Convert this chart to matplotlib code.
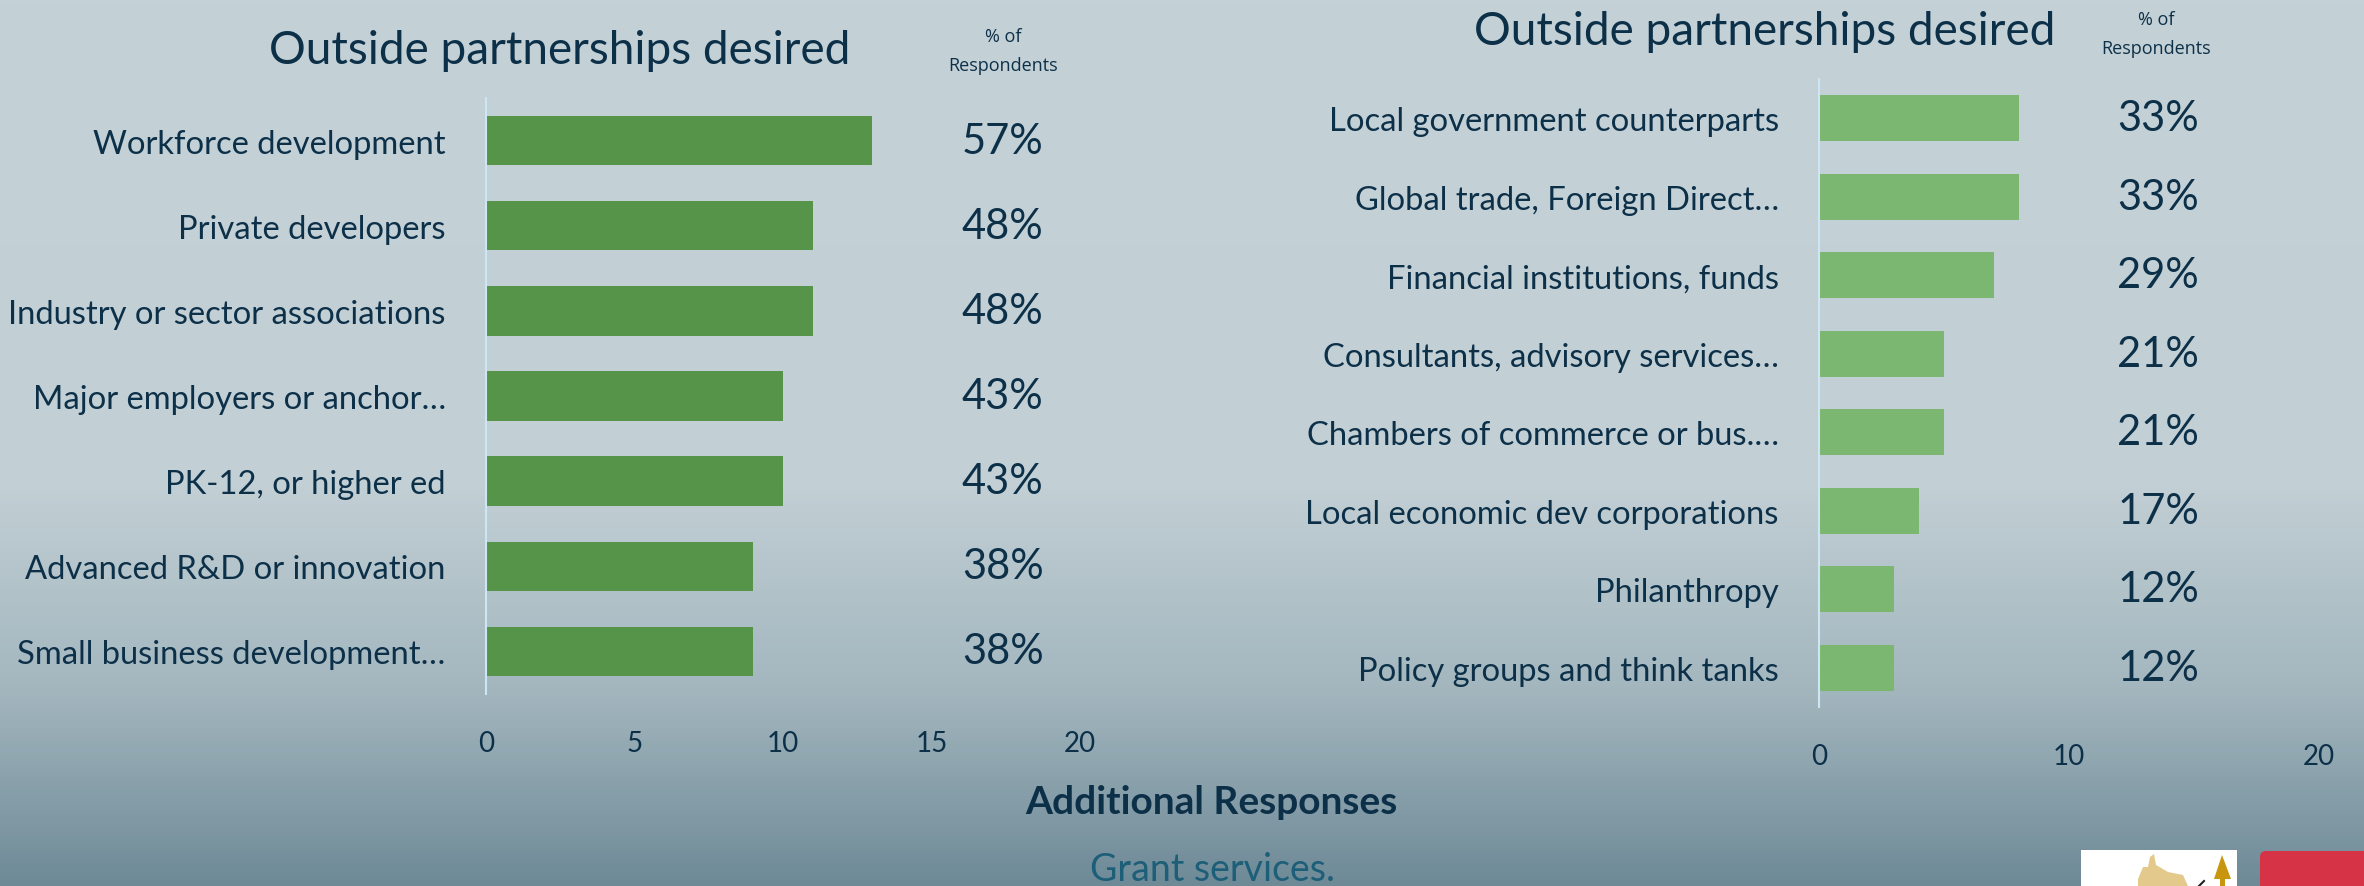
import numpy as np
import matplotlib
matplotlib.use("Agg")
import matplotlib.pyplot as plt
from matplotlib.colors import LinearSegmentedColormap
from matplotlib.patches import Rectangle, Polygon, FancyBboxPatch

plt.rcParams['font.family'] = ['Lato', 'DejaVu Sans']

# data
left_labels = ["Workforce development", "Private developers", "Industry or sector associations",
               "Major employers or anchor…", "PK-12, or higher ed",
               "Advanced R&D or innovation", "Small business development…"]
left_counts = [13, 11, 11, 10, 10, 9, 9]
left_pcts = ["57%", "48%", "48%", "43%", "43%", "38%", "38%"]
left_ticks = [0, 5, 10, 15, 20]

right_labels = ["Local government counterparts", "Global trade, Foreign Direct…",
                "Financial institutions, funds", "Consultants, advisory services…",
                "Chambers of commerce or bus.…", "Local economic dev corporations",
                "Philanthropy", "Policy groups and think tanks"]
right_counts = [8, 8, 7, 5, 5, 4, 3, 3]
right_pcts = ["33%", "33%", "29%", "21%", "21%", "17%", "12%", "12%"]
right_ticks = [0, 10, 20]

title = "Outside partnerships desired"
extra_title = "Additional Responses"
extra_text = "Grant services."

W, H = 2364, 887
navy = '#0D3049'

fig = plt.figure(figsize=(W / 100, H / 100), dpi=100)

# background gradient
bg = fig.add_axes([0, 0, 1, 1])
cmap = LinearSegmentedColormap.from_list('bg', [(0, '#C4D1D7'), (0.55, '#C2CFD5'),
                                                (0.78, '#A3B6BE'), (1, '#6E8A97')])
grad = np.linspace(0, 1, 256).reshape(-1, 1)
bg.imshow(grad, aspect='auto', cmap=cmap, extent=[0, W, H, 0])
bg.set_xlim(0, W)
bg.set_ylim(H, 0)
bg.axis('off')


def px_axes(x0, y0, x1, y1):
    return fig.add_axes([x0 / W, (H - y1) / H, (x1 - x0) / W, (y1 - y0) / H])


def bar_panel(ax, labels, counts, pcts, ticks, color, pct_x):
    n = len(labels)
    pos = np.arange(n)
    ax.barh(pos, counts, height=0.58, color=color)
    ax.set_ylim(n - 0.5, -0.5)
    ax.set_xlim(0, ticks[-1])
    ax.set_xticks(ticks)
    ax.set_yticks(pos)
    ax.set_yticklabels(labels)
    ax.patch.set_alpha(0)
    for s in ['top', 'right', 'bottom']:
        ax.spines[s].set_visible(False)
    ax.spines['left'].set_color('#CDE6F3')
    ax.spines['left'].set_linewidth(1.5)
    ax.tick_params(axis='y', length=0, pad=29, labelsize=23.6, labelcolor=navy)
    ax.tick_params(axis='x', length=0, pad=26, labelsize=20, labelcolor=navy)
    for i, p in enumerate(pcts):
        ax.text(pct_x, i, p, transform=ax.get_yaxis_transform(), ha='center', va='center',
                fontsize=30, color=navy, clip_on=False)


axl = px_axes(486, 99, 1080, 695)
bar_panel(axl, left_labels, left_counts, left_pcts, left_ticks, '#56944A', 0.87)

axr = px_axes(1819, 80, 2319, 708)
bar_panel(axr, right_labels, right_counts, right_pcts, right_ticks, '#7BB770', 0.678)


def fig_text(x, y, s, **kw):
    fig.text(x / W, (H - y) / H, s, **kw)


fig_text(560, 64, title, ha='center', va='baseline', fontsize=33, color=navy)
fig_text(1765, 45, title, ha='center', va='baseline', fontsize=33, color=navy)
for x, y0 in [(1003, 37), (2156, 20)]:
    fig_text(x, y0, "% of", ha='center', va='center', fontsize=13, color=navy,
             family=['Open Sans', 'DejaVu Sans'])
    fig_text(x, y0 + 29, "Respondents", ha='center', va='center', fontsize=13, color=navy,
             family=['Open Sans', 'DejaVu Sans'])

fig_text(1211, 814, extra_title, ha='center', va='baseline', fontsize=28,
         color=navy, weight='bold')
fig_text(1213, 881, extra_text, ha='center', va='baseline', fontsize=27, color='#1D5E78')

# logos in the bottom right corner
bg.add_patch(Rectangle((2081, 851), 156, 40, facecolor='white', edgecolor='none'))
bg.add_patch(Polygon([[2138, 880], [2143, 868], [2148, 868], [2150, 858],
                      [2154, 855], [2156, 866], [2168, 873], [2183, 876], [2188, 887],
                      [2138, 887]], closed=True, facecolor='#E3C98C', edgecolor='none'))
bg.add_patch(Polygon([[2222, 856], [2214, 880], [2220, 880], [2220, 887],
                      [2225, 887], [2225, 880], [2231, 880]], closed=True,
                     facecolor='#C8950F', edgecolor='none'))
bg.plot([2199, 2204], [887, 882], color='#222222', lw=1.5)
bg.add_patch(FancyBboxPatch((2260, 852), 140, 60, boxstyle='round,pad=0,rounding_size=6',
                            facecolor='#D63346', edgecolor='none'))

fig.savefig('out.png', dpi=100)
